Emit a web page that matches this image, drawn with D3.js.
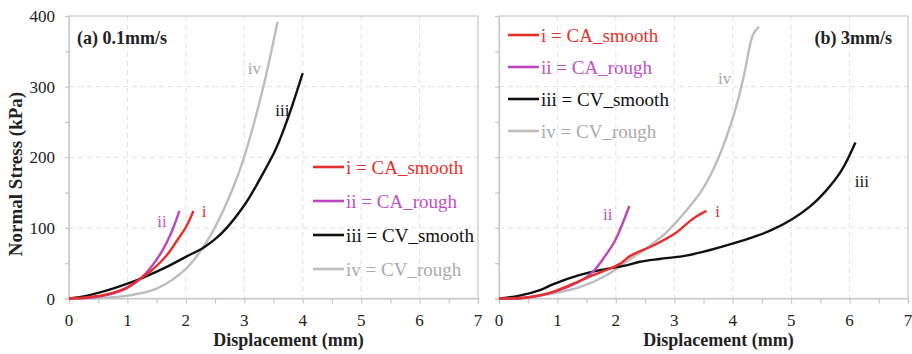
<!DOCTYPE html>
<html>
<head>
<meta charset="utf-8">
<script src="https://cdn.jsdelivr.net/npm/d3@7"></script>
<style>
  body { margin: 0; background: #fff; }
  svg { display: block; font-family: "Liberation Serif", "Times New Roman", serif; }
</style>
</head>
<body>
<svg id="chart" width="912" height="354"></svg>
<script>
// tick labels
var xTicks = [0, 1, 2, 3, 4, 5, 6, 7];
var yTicks = [0, 100, 200, 300, 400];

// series names / legend
var seriesNames  = ["i = CA_smooth", "ii = CA_rough", "iii = CV_smooth", "iv = CV_rough"];
var seriesShort  = ["i", "ii", "iii", "iv"];
var seriesColors = ["#e8302a", "#bb47c0", "#111111", "#bdbdbd"];
var legendColors = ["#e8302a", "#c14fc6", "#111111", "#ababab"];

// (a) 0.1mm/s  [displacement mm, stress kPa]
var a_CA_smooth = [[0,0],[0.4,2.5],[0.7,7],[1.0,16],[1.2,27],[1.4,39],[1.56,51],[1.7,64],[1.84,81],[2.0,101],[2.13,124]];
var a_CA_rough  = [[0,0],[0.4,1.5],[0.7,6],[1.0,15],[1.22,28],[1.4,44],[1.6,68],[1.75,93],[1.89,124]];
var a_CV_smooth = [[0,0],[0.25,3],[0.5,8],[0.75,14],[1.0,21],[1.25,29],[1.5,38],[1.75,48],[2.0,59],[2.3,72],[2.5,84],[2.7,100],[3.0,132],[3.15,152],[3.3,174],[3.53,210],[3.66,236],[3.8,268],[4.0,319]];
var a_CV_rough  = [[0,0],[0.5,0.5],[1.0,4],[1.5,14],[2.0,42],[2.3,73],[2.5,101],[2.8,155],[3.0,201],[3.3,291],[3.57,392]];

// (b) 3mm/s
var b_CA_smooth = [[0,0],[0.47,1.5],[0.87,8],[1.21,19],[1.55,31],[1.8,39],[2.07,49],[2.24,60],[2.64,75],[3.01,92],[3.32,113],[3.55,124]];
var b_CA_rough  = [[0,0],[0.35,0],[0.7,4],[1.1,14],[1.38,24],[1.61,38],[1.78,56],[1.98,81],[2.23,131]];
var b_CV_smooth = [[0,0],[0.35,4],[0.7,12],[0.92,20],[1.21,29],[1.55,37],[1.72,40],[2.18,47],[2.41,52],[2.75,56],[3.15,60],[3.49,66],[4.01,78],[4.35,87],[4.64,96],[5.03,113],[5.32,130],[5.58,151],[5.86,181],[6.10,221]];
var b_CV_rough  = [[0,0],[0.47,1.4],[0.92,7],[1.38,16],[1.84,33],[2.18,52],[2.55,73],[2.87,94],[3.18,122],[3.47,153],[3.75,198],[4.04,266],[4.19,315],[4.35,374],[4.45,385]];

var svg = d3.select("#chart");

var panels = [
  { x0: 69,  x1: 478, title: "(a) 0.1mm/s", titleX: 77, titleAnchor: "start", yLabels: true,
    series: [a_CA_smooth, a_CA_rough, a_CV_smooth, a_CV_rough],
    legend: { x: 313, y: 167, dy: 34 },
    tags: [[2.27, 115], [1.51, 101], [3.53, 259], [3.06, 318]] },
  { x0: 499, x1: 908, title: "(b) 3mm/s", titleX: 892, titleAnchor: "end", yLabels: false,
    series: [b_CA_smooth, b_CA_rough, b_CV_smooth, b_CV_rough],
    legend: { x: 508, y: 35, dy: 32 },
    tags: [[3.7, 115], [1.78, 111], [6.09, 158], [3.75, 304]] }
];

var plotTop = 16, plotBottom = 298.5;
var axisGray = "#c8c8c8";

panels.forEach(function(p){
  var sx = d3.scaleLinear().domain([0, 7]).range([p.x0, p.x1]);
  var sy = d3.scaleLinear().domain([0, 400]).range([plotBottom, plotTop]);
  var g = svg.append("g");

  // grid
  g.selectAll(".hg").data([100, 200, 300]).enter().append("line")
    .attr("x1", p.x0).attr("x2", p.x1)
    .attr("y1", function(d){ return sy(d); }).attr("y2", function(d){ return sy(d); })
    .attr("stroke", "#e2e2e2").attr("stroke-dasharray", "5,4");
  g.selectAll(".vg").data([1, 2, 3, 4, 5, 6]).enter().append("line")
    .attr("y1", plotTop).attr("y2", plotBottom)
    .attr("x1", function(d){ return sx(d); }).attr("x2", function(d){ return sx(d); })
    .attr("stroke", "#e2e2e2").attr("stroke-dasharray", "5,4");

  // frame
  g.append("rect").attr("x", p.x0).attr("y", plotTop)
    .attr("width", p.x1 - p.x0).attr("height", plotBottom - plotTop)
    .attr("fill", "none").attr("stroke", axisGray).attr("stroke-width", 1.2);

  // axes
  var xAxis = d3.axisBottom(sx).tickValues(d3.range(0, 7.01, 0.5)).tickSize(5).tickFormat("");
  var gx = g.append("g").attr("transform", "translate(0," + plotBottom + ")").call(xAxis);
  var yAxis = d3.axisLeft(sy).tickValues(d3.range(0, 401, 50)).tickSize(4).tickFormat("");
  var gy = g.append("g").attr("transform", "translate(" + p.x0 + ",0)").call(yAxis);
  [gx, gy].forEach(function(a){
    a.select(".domain").attr("stroke", axisGray).attr("stroke-width", 1.2);
    a.selectAll(".tick line").attr("stroke", axisGray).attr("stroke-width", 1.2);
  });

  g.selectAll(".xl").data(xTicks).enter().append("text")
    .attr("x", function(d){ return sx(d); }).attr("y", 326)
    .attr("text-anchor", "middle").attr("font-size", 17).attr("fill", "#222")
    .text(function(d){ return d; });
  if (p.yLabels) {
    g.selectAll(".yl").data(yTicks).enter().append("text")
      .attr("x", 55).attr("y", function(d){ return sy(d) + 6; })
      .attr("text-anchor", "end").attr("font-size", 17).attr("fill", "#222")
      .text(function(d){ return d; });
  }

  // x title
  g.append("text").attr("x", (p.x0 + p.x1) / 2 + 15).attr("y", 346)
    .attr("text-anchor", "middle").attr("font-size", 18).attr("font-weight", "bold")
    .attr("fill", "#222").text("Displacement (mm)");

  // panel title
  g.append("text").attr("x", p.titleX).attr("y", 44).attr("text-anchor", p.titleAnchor)
    .attr("font-size", 18).attr("font-weight", "bold").attr("fill", "#222").text(p.title);

  // lines
  var line = d3.line()
    .x(function(d){ return sx(d[0]); })
    .y(function(d){ return sy(d[1]); })
    .curve(d3.curveCatmullRom.alpha(0.5));
  var order = [3, 2, 1, 0];
  order.forEach(function(i){
    g.append("path").attr("d", line(p.series[i]))
      .attr("fill", "none").attr("stroke", seriesColors[i]).attr("stroke-width", 2.4)
      .attr("stroke-linejoin", "round");
  });

  // curve tags
  p.tags.forEach(function(t, i){
    g.append("text").attr("x", sx(t[0])).attr("y", sy(t[1]))
      .attr("font-size", 17).attr("fill", i === 3 ? "#a8a8a8" : legendColors[i])
      .text(seriesShort[i]);
  });

  // legend
  seriesNames.forEach(function(n, i){
    var ly = p.legend.y + i * p.legend.dy;
    g.append("line").attr("x1", p.legend.x).attr("x2", p.legend.x + 31)
      .attr("y1", ly).attr("y2", ly)
      .attr("stroke", seriesColors[i]).attr("stroke-width", 2.6);
    g.append("text").attr("x", p.legend.x + 33).attr("y", ly + 6.5)
      .attr("font-size", 19).attr("fill", legendColors[i]).text(n);
  });
});

// y title
svg.append("text").attr("transform", "translate(22,174) rotate(-90)")
  .attr("text-anchor", "middle").attr("font-size", 19).attr("font-weight", "bold")
  .attr("fill", "#222").text("Normal Stress (kPa)");
</script>
</body>
</html>
